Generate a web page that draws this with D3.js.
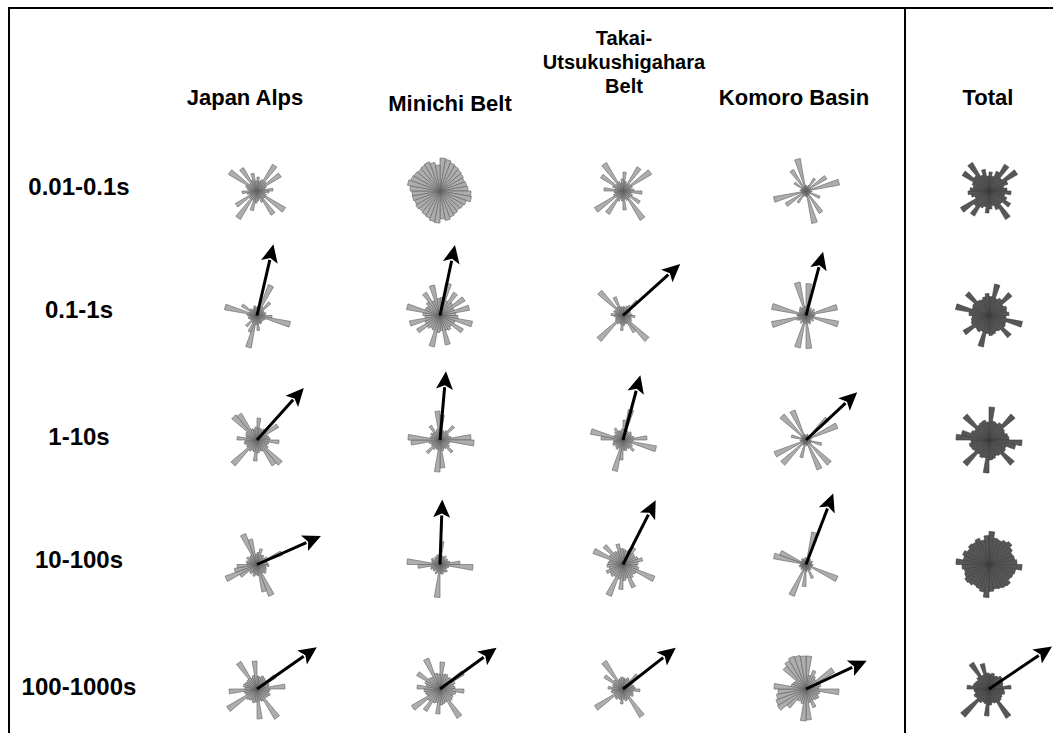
<!DOCTYPE html>
<html>
<head>
<meta charset="utf-8">
<script src="https://cdn.jsdelivr.net/npm/d3@7"></script>
<style>
  body { margin: 0; background: #fff; }
  text { font-family: "Liberation Sans", Arial, sans-serif; font-weight: bold; fill: #000; }
</style>
</head>
<body>
<svg id="chart" width="1053" height="733"></svg>
<script>
// Rose diagrams of principal-axis orientations, grouped by region (columns)
// and by period band (rows). Each rose has 36 bins of 10 degrees, measured
// clockwise from north; the arrow is the mean direction of the band.

const regions = ["Japan Alps", "Minichi Belt", "Takai-Utsukushigahara Belt", "Komoro Basin", "Total"];
const regionTitleLines = [["Japan Alps"], ["Minichi Belt"], ["Takai-", "Utsukushigahara", "Belt"], ["Komoro Basin"], ["Total"]];
const periods = ["0.01-0.1s", "0.1-1s", "1-10s", "10-100s", "100-1000s"];
const binWidthDeg = 10;

// Bin frequencies (36 per rose), one row per period band
const japanAlps = [
  [14,10,12,31,12,28,10,8,16,12,8,10,33,10,28,12,8,10,12,20,10,33,10,25,8,10,15,8,10,12,33,10,27,12,18,10],
  [9,8,33,10,18,8,7,9,8,15,34,9,8,7,8,9,8,15,9,33,18,8,15,7,8,9,8,10,33,8,18,9,7,8,10,8],
  [22,12,11,13,12,25,11,12,13,22,12,11,13,33,30,12,11,13,21,12,11,13,34,12,11,13,12,20,11,12,13,33,31,12,11,13],
  [12,16,10,11,9,12,27,10,11,12,9,10,11,12,10,34,28,11,10,12,9,11,10,20,34,23,20,10,11,9,12,10,11,33,26,10],
  [13,12,14,13,12,22,13,12,28,13,12,14,13,12,35,13,12,30,13,14,12,13,14,35,12,13,28,12,14,13,12,13,32,12,14,28]
];
const minichiBelt = [
  [33,32,30,29,28,27,26,27,28,31,32,28,27,26,27,28,30,28,32,31,29,28,27,28,27,28,28,30,33,31,30,29,30,31,29,26],
  [18,33,16,27,17,29,15,30,16,18,33,16,27,15,17,16,30,15,17,32,16,15,17,27,16,31,15,17,34,16,15,18,27,16,31,17],
  [25,10,9,11,19,10,9,11,31,34,10,9,11,17,10,9,11,28,32,10,9,11,18,10,9,11,29,32,10,9,11,10,17,9,11,29],
  [23,9,8,10,7,9,8,10,20,33,9,8,7,10,9,8,10,9,33,8,10,7,9,8,10,9,22,33,8,9,10,7,9,8,10,9],
  [27,15,16,14,15,28,16,14,15,24,16,14,15,16,34,14,15,16,25,14,15,26,16,33,14,15,16,23,14,16,27,15,14,33,16,15]
];
const takaiUtsukushigahara = [
  [19,10,8,28,9,33,10,8,11,19,8,10,20,9,34,10,8,19,10,8,11,27,9,33,10,8,9,19,8,11,26,9,33,10,8,12],
  [9,8,10,12,20,9,8,7,9,12,8,9,10,34,20,9,8,10,15,9,8,10,34,9,8,7,9,12,8,10,9,33,10,20,9,8],
  [20,31,10,9,11,10,9,11,24,10,34,9,11,15,10,9,11,10,20,32,9,11,10,9,11,10,9,22,33,10,9,11,14,10,9,11],
  [15,14,16,20,15,14,16,20,15,14,16,34,15,14,16,25,14,16,25,15,34,14,16,15,18,14,16,15,14,32,16,26,15,14,21,16],
  [11,10,12,11,20,12,10,11,12,17,10,11,12,10,33,11,12,10,15,11,10,12,11,33,10,12,11,15,10,11,22,12,33,10,11,12]
];
const komoroBasin = [
  [5,4,6,15,4,24,5,34,4,6,4,15,5,4,26,5,33,6,5,4,6,14,4,24,5,33,4,6,5,4,14,5,25,4,33,6],
  [32,8,6,9,7,10,8,32,9,8,33,7,9,6,8,9,7,33,8,33,7,9,6,8,10,35,8,9,35,7,8,9,10,8,34,9],
  [5,6,4,5,30,5,34,6,4,5,16,5,6,33,4,32,5,6,4,18,5,6,33,4,34,5,6,4,15,5,6,34,5,32,6,4],
  [6,33,5,7,6,5,7,6,5,7,6,34,5,7,6,15,5,7,22,6,34,5,7,6,5,7,6,5,33,28,6,5,7,6,5,7],
  [33,14,20,15,13,33,14,15,13,33,14,13,15,14,13,20,14,31,32,15,13,14,25,33,32,30,28,32,15,14,13,30,33,35,34,33]
];
const total = [
  [19,15,21,31,17,33,20,15,18,22,16,19,25,17,33,20,15,18,22,16,18,29,20,33,15,18,21,19,16,18,31,20,33,17,22,15],
  [19,32,18,20,30,17,19,18,20,17,34,18,19,29,18,17,19,20,18,32,17,19,18,30,19,18,17,20,34,18,19,31,18,17,19,22],
  [33,19,18,20,34,18,17,19,20,33,27,18,19,33,18,17,19,20,33,18,19,17,34,18,19,20,18,33,28,19,17,34,18,19,20,18],
  [33,27,26,28,30,27,25,26,28,33,27,26,25,28,27,26,25,27,33,28,26,25,27,28,26,25,27,33,26,28,25,27,26,28,25,29],
  [15,16,14,15,17,16,15,14,22,15,16,14,15,16,34,15,14,16,27,15,14,16,37,15,16,14,15,22,16,15,14,16,31,15,26,16]
];

// Mean direction (azimuth, degrees) and resultant length per period band; null = no arrow
const japanAlpsMeanAz      = [null, 13, 42, 66, 55];
const japanAlpsMeanLen     = [null, 73, 70, 70, 73];
const minichiBeltMeanAz    = [null, 12, 5, 2, 54];
const minichiBeltMeanLen   = [null, 72, 69, 65, 70];
const takaiMeanAz          = [null, 48, 15, 27, 52];
const takaiMeanLen         = [null, 77, 67, 72, 67];
const komoroBasinMeanAz    = [null, 15, 47, 21, 65];
const komoroBasinMeanLen   = [null, 66, 70, 76, 67];
const totalMeanAz          = [null, null, null, null, 56];
const totalMeanLen         = [null, null, null, null, 76];

const roseData = [japanAlps, minichiBelt, takaiUtsukushigahara, komoroBasin, total];
const meanAz = [japanAlpsMeanAz, minichiBeltMeanAz, takaiMeanAz, komoroBasinMeanAz, totalMeanAz];
const meanLen = [japanAlpsMeanLen, minichiBeltMeanLen, takaiMeanLen, komoroBasinMeanLen, totalMeanLen];

const svg = d3.select("#chart");

// Grid placement of the rose centres
const x = d3.scalePoint().domain(regions).range([257, 989]);
const y = d3.scalePoint().domain(periods).range([191, 689]);
const r = d3.scaleLinear().domain([0, 40]).range([0, 40]);

// Frame and the separator before the "Total" column
svg.append("rect")
  .attr("x", 9).attr("y", 8).attr("width", 1100).attr("height", 800)
  .attr("fill", "none").attr("stroke", "#000").attr("stroke-width", 2);
svg.append("line")
  .attr("x1", 905).attr("x2", 905).attr("y1", 8).attr("y2", 740)
  .attr("stroke", "#000").attr("stroke-width", 2);

// Column titles
const titleX = [245, 450, 624, 794, 988];
const titleY = [[105], [111], [45, 69, 93], [105], [105]];
const titleSize = [22, 22, 20, 22, 22];
regionTitleLines.forEach((lines, i) => {
  lines.forEach((line, j) => {
    svg.append("text")
      .attr("x", titleX[i]).attr("y", titleY[i][j])
      .attr("text-anchor", "middle")
      .attr("font-size", titleSize[i])
      .text(line);
  });
});

// Row labels
const labelDy = [4, 2, 5, 3, 6];
periods.forEach((p, k) => {
  svg.append("text")
    .attr("x", 79).attr("y", y(p) + labelDy[k])
    .attr("text-anchor", "middle")
    .attr("font-size", 24)
    .text(p);
});

const arc = d3.arc().innerRadius(0);
const toRad = Math.PI / 180;

regions.forEach((region, i) => {
  const isTotal = region === "Total";
  periods.forEach((period, k) => {
    const g = svg.append("g").attr("transform", `translate(${x(region)},${y(period)})`);
    const bins = roseData[i][k].map((v, b) => ({
      start: b * binWidthDeg * toRad,
      end: (b + 1) * binWidthDeg * toRad,
      value: v
    }));
    g.selectAll("path.petal")
      .data(bins)
      .join("path")
      .attr("class", "petal")
      .attr("d", d => arc({ startAngle: d.start, endAngle: d.end, outerRadius: r(d.value) }))
      .attr("fill", isTotal ? "#575757" : "#adadad")
      .attr("stroke", isTotal ? "#3a3a3a" : "#5e5e5e")
      .attr("stroke-width", 0.6);

    const az = meanAz[i][k];
    if (az !== null) {
      const len = r(meanLen[i][k]);
      const a = az * toRad;
      const ux = Math.sin(a), uy = -Math.cos(a);
      const headLen = 18, headHalf = 8.5;
      const tipX = ux * len, tipY = uy * len;
      const baseX = tipX - ux * headLen, baseY = tipY - uy * headLen;
      g.append("line")
        .attr("x1", 0).attr("y1", 0)
        .attr("x2", baseX + ux * 2).attr("y2", baseY + uy * 2)
        .attr("stroke", "#000").attr("stroke-width", 3);
      g.append("path")
        .attr("d", d3.line()([
          [tipX, tipY],
          [baseX - uy * headHalf, baseY + ux * headHalf],
          [baseX + ux * 4, baseY + uy * 4],
          [baseX + uy * headHalf, baseY - ux * headHalf]
        ]) + "Z")
        .attr("fill", "#000");
    }
  });
});
</script>
</body>
</html>
